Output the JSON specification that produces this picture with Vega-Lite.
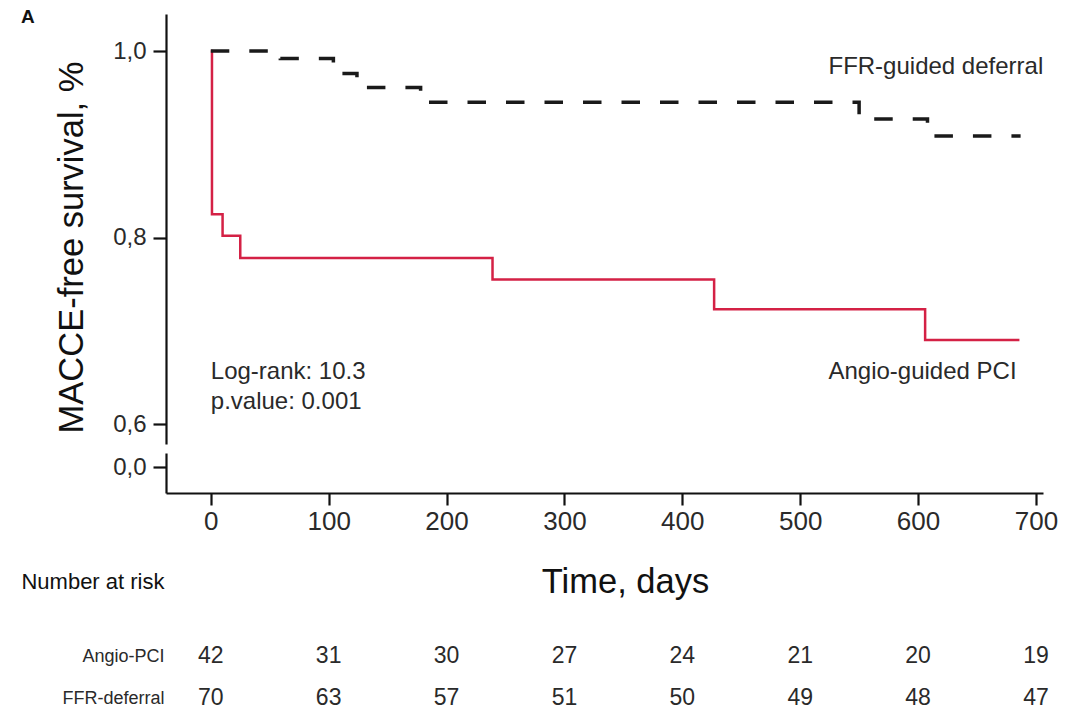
{
  "$schema": "https://vega.github.io/schema/vega-lite/v6.json",
  "padding": {"left": 20, "top": 8, "right": 5, "bottom": 5},
  "background": "white",
  "title": {"text": "A", "anchor": "start", "frame": "bounds", "fontSize": 19, "fontWeight": "bold", "dy": 17, "font": "Liberation Sans", "color": "#111"},
  "datasets": {
    "curves": [
      {"group": "Angio-guided PCI", "time": 0, "surv": 1.0},
      {"group": "Angio-guided PCI", "time": 1, "surv": 0.825},
      {"group": "Angio-guided PCI", "time": 10, "surv": 0.802},
      {"group": "Angio-guided PCI", "time": 25, "surv": 0.778},
      {"group": "Angio-guided PCI", "time": 239, "surv": 0.755},
      {"group": "Angio-guided PCI", "time": 427, "surv": 0.723},
      {"group": "Angio-guided PCI", "time": 606, "surv": 0.69},
      {"group": "Angio-guided PCI", "time": 686, "surv": 0.69},
      {"group": "FFR-guided deferral", "time": 0, "surv": 1.0},
      {"group": "FFR-guided deferral", "time": 59, "surv": 0.992},
      {"group": "FFR-guided deferral", "time": 104, "surv": 0.976},
      {"group": "FFR-guided deferral", "time": 124, "surv": 0.961},
      {"group": "FFR-guided deferral", "time": 178, "surv": 0.945},
      {"group": "FFR-guided deferral", "time": 550, "surv": 0.927},
      {"group": "FFR-guided deferral", "time": 608, "surv": 0.909},
      {"group": "FFR-guided deferral", "time": 687, "surv": 0.909}
    ],
    "labels": [
      {"text": "FFR-guided deferral", "time": 524, "surv": 0.9753},
      {"text": "Angio-guided PCI", "time": 524, "surv": 0.6484},
      {"text": "Log-rank: 10.3", "time": 0, "surv": 0.6484},
      {"text": "p.value: 0.001", "time": 0, "surv": 0.6163}
    ],
    "risk": [
      {"group": "Angio-PCI", "time": 0, "n": 42},
      {"group": "Angio-PCI", "time": 100, "n": 31},
      {"group": "Angio-PCI", "time": 200, "n": 30},
      {"group": "Angio-PCI", "time": 300, "n": 27},
      {"group": "Angio-PCI", "time": 400, "n": 24},
      {"group": "Angio-PCI", "time": 500, "n": 21},
      {"group": "Angio-PCI", "time": 600, "n": 20},
      {"group": "Angio-PCI", "time": 700, "n": 19},
      {"group": "FFR-deferral", "time": 0, "n": 70},
      {"group": "FFR-deferral", "time": 100, "n": 63},
      {"group": "FFR-deferral", "time": 200, "n": 57},
      {"group": "FFR-deferral", "time": 300, "n": 51},
      {"group": "FFR-deferral", "time": 400, "n": 50},
      {"group": "FFR-deferral", "time": 500, "n": 49},
      {"group": "FFR-deferral", "time": 600, "n": 48},
      {"group": "FFR-deferral", "time": 700, "n": 47}
    ]
  },
  "bounds": "flush",
  "spacing": 9,
  "vconcat": [
    {
      "width": 877,
      "height": 430,
      "layer": [
        {
          "data": {"name": "curves"},
          "transform": [{"filter": "datum.group === 'Angio-guided PCI'"}],
          "mark": {"type": "line", "interpolate": "step-after", "color": "#d42145", "strokeWidth": 2.5, "clip": true},
          "encoding": {
            "x": {"field": "time", "type": "quantitative", "scale": {"domain": [-38, 706], "nice": false, "zero": false}, "axis": null},
            "y": {"field": "surv", "type": "quantitative", "scale": {"domain": [0.5786, 1.0397], "nice": false, "zero": false},
              "axis": {"values": [0.6, 0.8, 1.0], "format": ".1f", "labelExpr": "replace(datum.label, '.', ',')", "title": "MACCE-free survival, %", "titleFontSize": 34.5, "titleFontWeight": "normal", "titleX": -84, "titleY": 233, "titleBaseline": "alphabetic", "titleAlign": "center", "tickSize": 13, "labelPadding": 7, "labelFontSize": 24, "grid": false}}
          }
        },
        {
          "data": {"name": "curves"},
          "transform": [{"filter": "datum.group === 'FFR-guided deferral'"}],
          "mark": {"type": "line", "interpolate": "step-after", "color": "#1a1a1a", "strokeWidth": 3.5, "strokeDash": [18.5, 20], "clip": true},
          "encoding": {
            "x": {"field": "time", "type": "quantitative"},
            "y": {"field": "surv", "type": "quantitative"}
          }
        },
        {
          "data": {"name": "labels"},
          "mark": {"type": "text", "align": "left", "baseline": "alphabetic", "fontSize": 24, "color": "#2a2a2a"},
          "encoding": {
            "x": {"field": "time", "type": "quantitative"},
            "y": {"field": "surv", "type": "quantitative"},
            "text": {"field": "text", "type": "nominal"}
          }
        }
      ]
    },
    {
      "width": 877,
      "height": 40,
      "data": {"name": "curves"},
      "mark": {"type": "line", "interpolate": "step-after", "color": "#1a1a1a", "clip": true},
      "encoding": {
        "x": {"field": "time", "type": "quantitative", "scale": {"domain": [-38, 706], "nice": false, "zero": false},
          "axis": {"values": [0, 100, 200, 300, 400, 500, 600, 700], "title": "Time, days", "titleFontSize": 34.5, "titleFontWeight": "normal", "titleX": 459, "titleY": 99, "titleBaseline": "alphabetic", "titleAlign": "center", "tickSize": 12, "labelPadding": 3, "labelFontSize": 26, "grid": false}},
        "y": {"field": "surv", "type": "quantitative", "scale": {"domain": [-0.26, 0.14], "nice": false, "zero": false},
          "axis": {"values": [0], "labelExpr": "'0,0'", "title": null, "tickSize": 13, "labelPadding": 7, "labelFontSize": 24, "grid": false}},
        "detail": {"field": "group", "type": "nominal"}
      }
    },
    {
      "width": 877,
      "height": 217,
      "data": {"name": "risk"},
      "mark": {"type": "text", "align": "center", "baseline": "middle", "fontSize": 23, "color": "#2a2a2a"},
      "encoding": {
        "x": {"field": "time", "type": "quantitative", "scale": {"domain": [-38, 706], "nice": false, "zero": false}, "axis": null},
        "y": {"field": "group", "type": "nominal", "scale": {"domain": ["Angio-PCI", "FFR-deferral"], "range": [133, 217], "paddingInner": 0, "paddingOuter": 0},
          "axis": {"domain": false, "ticks": false, "labelPadding": 2, "labelFontSize": 18, "title": "Number at risk", "titleAngle": 0, "titleAlign": "right", "titleBaseline": "alphabetic", "titleX": -2, "titleY": 86, "titleFontSize": 22, "titleFontWeight": "normal"}},
        "text": {"field": "n", "type": "quantitative"}
      }
    }
  ],
  "config": {
    "view": {"stroke": null},
    "font": "Liberation Sans",
    "axis": {"domainColor": "#111", "domainWidth": 2.2, "tickColor": "#111", "tickWidth": 2.2, "labelColor": "#2a2a2a", "titleColor": "#111", "labelFont": "Liberation Sans", "titleFont": "Liberation Sans"}
  }
}
